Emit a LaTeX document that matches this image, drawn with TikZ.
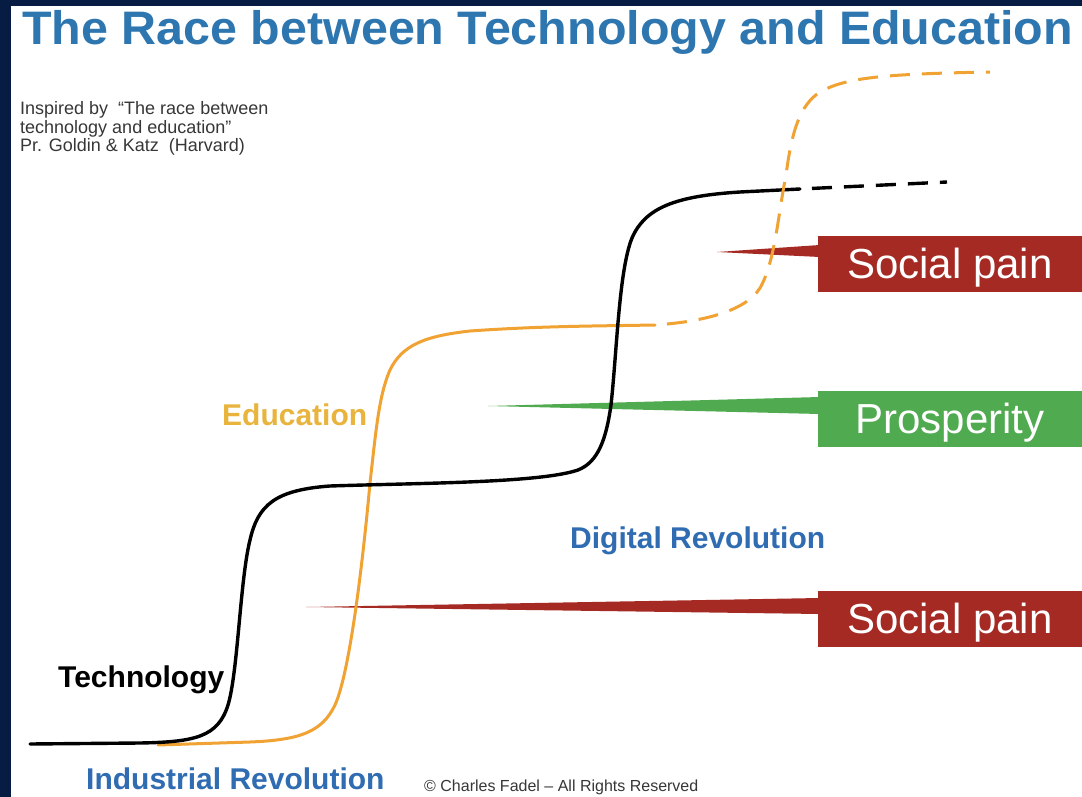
\documentclass[tikz,border=0pt]{standalone}
\usepackage{fontspec}
\setmainfont{Liberation Sans}
\definecolor{navy}{RGB}{6,28,66}
\definecolor{titleblue}{RGB}{46,118,176}
\definecolor{labelblue}{RGB}{48,108,178}
\definecolor{edugold}{RGB}{232,180,62}
\definecolor{eduorange}{RGB}{240,162,50}
\definecolor{painred}{RGB}{166,42,36}
\definecolor{progreen}{RGB}{80,170,80}
\definecolor{notegray}{RGB}{55,55,55}
\newcommand{\boxtext}[1]{\raisebox{-15pt}[0pt][0pt]{#1}}
\tikzset{
  labelbox/.style={minimum width=264pt, minimum height=56pt, inner sep=0pt, text=white,
    font=\fontsize{42}{44}\selectfont},
  biglabel/.style={anchor=base west, inner sep=0pt, font=\bfseries\fontsize{30}{32}\selectfont},
  notetext/.style={anchor=base west, inner sep=0pt, text=notegray, font=\fontsize{18}{20}\selectfont},
  techline/.style={draw=black, line width=3.4pt, line cap=round},
  eduline/.style={draw=eduorange, line width=3pt, line cap=round},
  futuredash/.style={dash pattern=on 20pt off 12pt, dash phase=20pt, line cap=butt}
}
\begin{document}
\begin{tikzpicture}[x=1pt,y=-1pt]
\useasboundingbox (0,0) rectangle (1082,797);
\fill[white] (0,0) rectangle (1082,797);
\fill[navy] (0,0) rectangle (1082,6);
\fill[navy] (0,0) rectangle (11,797);

% title and notes
\node[anchor=base west, inner sep=0pt, text=titleblue, font=\bfseries\fontsize{47}{50}\selectfont] (title) at (22,45) {\scalebox{1.03}[1]{The Race between Technology and Education}};
\node[notetext] (note1) at (20,115) {Inspired by \ “The race between};
\node[notetext] (note2) at (20,133.5) {technology and education”};
\node[notetext] (note3) at (20,152) {Pr. Goldin \& Katz \ (Harvard)};

% boxes
\node[labelbox, fill=painred] (sp1) at (950,263.5) {\boxtext{Social pain}};
\node[labelbox, fill=progreen] (pros) at (950,418.5) {\boxtext{Prosperity}};
\node[labelbox, fill=painred] (sp2) at (950,618.5) {\boxtext{Social pain}};

% wedges
\coordinate (t1) at (717,252);
\coordinate (t2) at (488,406);
\coordinate (t3) at (306,607);
\fill[painred] (t1) -- ([xshift=2pt,yshift=18.5pt]sp1.west) -- ([xshift=2pt,yshift=6.5pt]sp1.west) -- cycle;
\fill[progreen] (t2) -- ([xshift=2pt,yshift=21.5pt]pros.west) -- ([xshift=2pt,yshift=4.5pt]pros.west) -- cycle;
\fill[painred] (t3) -- ([xshift=2pt,yshift=20.5pt]sp2.west) -- ([xshift=2pt,yshift=4.5pt]sp2.west) -- cycle;

% education (solid)
\draw[eduline] (158,745) -- (250,742) .. controls (300,740) and (322,732) .. (335,705)
  .. controls (350,672) and (363,560) .. (370,483)
  .. controls (376,430) and (379,395) .. (390,370)
  .. controls (402,345) and (425,336) .. (470,331)
  .. controls (540,326) and (600,326) .. (655,325);

% technology
\draw[techline] (30,744) -- (140,743) .. controls (195,742) and (218,737) .. (228,705)
  .. controls (238,672) and (240,580) .. (250,540)
  .. controls (258,505) and (275,490) .. (330,486)
  .. controls (420,483) and (540,483) .. (578,470)
  .. controls (598,462) and (606,440) .. (611,405)
  .. controls (617,350) and (619,270) .. (632,238)
  .. controls (645,208) and (675,196) .. (740,192) -- (800,189);
\draw[techline, futuredash] (800,189) -- (947,182);

% education (future, dashed)
\draw[eduline, futuredash] (655,325) .. controls (700,322) and (745,312) .. (760,288)
  .. controls (775,262) and (778,215) .. (786,175)
  .. controls (792,130) and (800,105) .. (820,92)
  .. controls (845,78) and (880,74) .. (990,72);

% labels
\node[biglabel, text=black] (techlab) at (58,687) {Technology};
\node[biglabel, text=edugold] (edulab) at (222,425) {Education};
\node[biglabel, text=labelblue] (digital) at (570,548) {Digital Revolution};
\node[biglabel, text=labelblue] (industrial) at (86,789) {Industrial Revolution};
\node[anchor=base west, inner sep=0pt, text=notegray, font=\fontsize{16}{18}\selectfont] (copy) at (424,791) {© Charles Fadel – All Rights Reserved};
\end{tikzpicture}
\end{document}
